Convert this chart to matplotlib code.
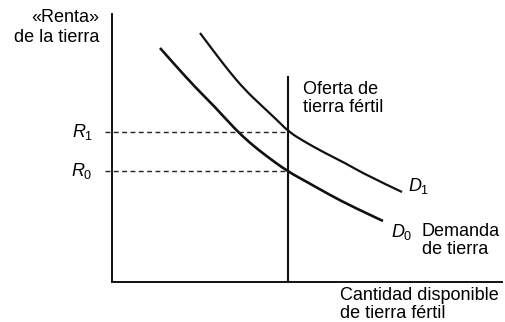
import matplotlib
matplotlib.use("Agg")
import matplotlib.pyplot as plt
from matplotlib.path import Path
from matplotlib.patches import PathPatch

plt.rcParams['font.family'] = ['Liberation Sans', 'DejaVu Sans']
plt.rcParams['mathtext.fontset'] = 'custom'
plt.rcParams['mathtext.rm'] = 'Liberation Sans'
plt.rcParams['mathtext.it'] = 'Liberation Sans:italic'

# Data (quantity, rent) in arbitrary units
d0_q = [48, 63, 83, 103, 123, 138, 153, 175, 195, 218, 241, 271]
d0_r = [234, 217, 195, 175, 153, 139, 127, 111, 100, 87, 75, 61]
d1_q = [88, 100, 116, 133, 150, 166, 177, 193, 213, 233, 256, 290]
d1_r = [249, 233, 212, 192, 176, 161, 150, 140, 129, 119, 106, 90]
supply_q = 176
supply_top = 205
r1 = 150
r0 = 111
q_max = 390
r_max = 268

fig = plt.figure(figsize=(5.06, 3.22), dpi=100)
ax = fig.add_axes([112/506, 40/322, 390/506, 268/322])
ax.set_xlim(0, q_max)
ax.set_ylim(0, r_max)
for s in ['top', 'right']:
    ax.spines[s].set_visible(False)
for s in ['left', 'bottom']:
    ax.spines[s].set_linewidth(1.4)
    ax.spines[s].set_color('#111111')
ax.set_xticks([])
ax.set_yticks([])


def smooth_curve(qs, rs, lw):
    """Draw a smooth quadratic-Bezier path guided by the read points."""
    pts = list(zip(qs, rs))
    verts = [pts[0]]
    codes = [Path.MOVETO]
    for i in range(1, len(pts) - 1):
        mid = ((pts[i][0] + pts[i + 1][0]) / 2, (pts[i][1] + pts[i + 1][1]) / 2)
        end = mid if i < len(pts) - 2 else pts[-1]
        verts += [pts[i], end]
        codes += [Path.CURVE3, Path.CURVE3]
    patch = PathPatch(Path(verts, codes), facecolor='none',
                      edgecolor='#111111', lw=lw, capstyle='butt')
    ax.add_patch(patch)


smooth_curve(d0_q, d0_r, 1.9)
smooth_curve(d1_q, d1_r, 1.6)
ax.plot([supply_q, supply_q], [0, supply_top], color='#111111', lw=1.5)

for r in (r1, r0):
    ax.plot([-7, supply_q], [r, r], color='#222222', lw=1.0,
            dashes=(3.5, 2.5), clip_on=False)

fs = 13
ax.text(-13, 265, '«Renta»', ha='right', va='center', fontsize=fs)
ax.text(-13, 245, 'de la tierra', ha='right', va='center', fontsize=fs)
ax.text(-19, r1, '$R_1$', ha='right', va='center', fontsize=fs, clip_on=False)
ax.text(-19, r0, '$R_0$', ha='right', va='center', fontsize=fs, clip_on=False)
ax.text(191, 193, 'Oferta de', ha='left', va='center', fontsize=fs)
ax.text(191, 175, 'tierra fértil', ha='left', va='center', fontsize=fs)
ax.text(296, 96, '$D_1$', ha='left', va='center', fontsize=fs)
ax.text(279, 50, '$D_0$', ha='left', va='center', fontsize=fs)
ax.text(310, 51, 'Demanda', ha='left', va='center', fontsize=fs)
ax.text(310, 32, 'de tierra', ha='left', va='center', fontsize=fs)
ax.text(228, -13, 'Cantidad disponible', ha='left', va='center', fontsize=fs)
ax.text(228, -31, 'de tierra fértil', ha='left', va='center', fontsize=fs)

fig.savefig('out.png', dpi=100)
